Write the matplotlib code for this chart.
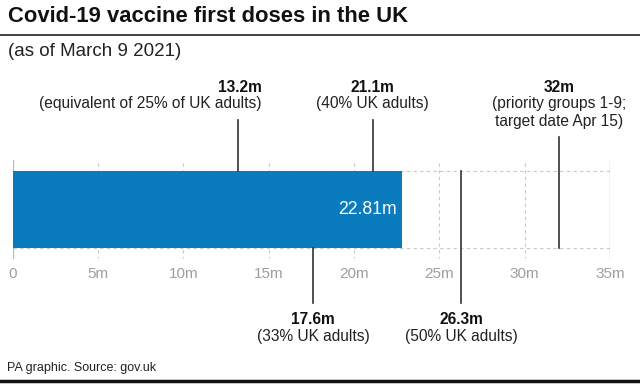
import matplotlib.pyplot as plt
from matplotlib.lines import Line2D

plt.rcParams['font.family'] = ['Liberation Sans', 'DejaVu Sans']

# data (millions of first doses)
doses = 22.81
ticks = [0, 5, 10, 15, 20, 25, 30, 35]
tick_labels = ['0', '5m', '10m', '15m', '20m', '25m', '30m', '35m']

# milestones drawn above the bar
top_vals = [13.2, 21.1, 32]
top_heads = ['13.2m', '21.1m', '32m']
top_notes = ['(equivalent of 25% of UK adults)', '(40% UK adults)',
             '(priority groups 1-9;\ntarget date Apr 15)']

# milestones drawn below the bar
bot_vals = [17.6, 26.3]
bot_heads = ['17.6m', '26.3m']
bot_notes = ['(33% UK adults)', '(50% UK adults)']

W, H = 640, 385
fig = plt.figure(figsize=(W / 100, H / 100), dpi=100)
x0, x35 = 12.5, 610
ax = fig.add_axes([x0 / W, 0, (x35 - x0) / W, 1])
ax.set_xlim(0, 35)
ax.set_ylim(H, 0)  # y in pixels from the top
ax.axis('off')

bar_top, bar_bot = 171, 248

# grid
for t in ticks[1:-1]:
    ax.plot([t, t], [163, 258], color='#c8c8c8', lw=0.8, ls=(0, (3, 3)))
for t in (ticks[0], ticks[-1]):
    ax.plot([t, t], [160, 258], color='#bdbdbd', lw=1)
for yy in (bar_top, bar_bot):
    ax.plot([0, 35], [yy, yy], color='#c8c8c8', lw=0.8, ls=(0, (3, 3)))

ax.barh((bar_top + bar_bot) / 2, doses, height=bar_bot - bar_top,
        color='#0a7bbc', zorder=2)
ax.text(doses - 0.3, (bar_top + bar_bot) / 2, f'{doses}m', color='white',
        fontsize=12.7, ha='right', va='center', zorder=3)

for t, lab in zip(ticks, tick_labels):
    ax.text(t, 274, lab, color='#9e9e9e', fontsize=11, ha='center', va='center')

# top annotations
line_tops = [120, 120, 137]
line_bots = [bar_top, bar_top, bar_bot]
for i, v in enumerate(top_vals):
    ax.plot([v, v], [line_tops[i], line_bots[i]], color='#333333', lw=1.2, zorder=4)
    if i == 0:
        tx, ha = v + 1.38, 'right'
    else:
        tx, ha = v, 'center'
    ax.text(tx, 87, top_heads[i], fontsize=11.2, fontweight='bold', ha=ha,
            va='center', color='#111111')
    ax.text(tx, 96, top_notes[i], fontsize=11.2, ha=ha, va='top',
            color='#222222', linespacing=1.25, multialignment='center')

# bottom annotations
bot_tops = [bar_bot, bar_top]
for i, v in enumerate(bot_vals):
    ax.plot([v, v], [bot_tops[i], 303], color='#333333', lw=1.2, zorder=4)
    ax.text(v, 319, bot_heads[i], fontsize=11.2, fontweight='bold', ha='center',
            va='center', color='#111111')
    ax.text(v, 336, bot_notes[i], fontsize=11.2, ha='center', va='center',
            color='#222222')

# title block
fig.text(8 / W, 1 - 17 / H, 'Covid-19 vaccine first doses in the UK',
         fontsize=15.8, fontweight='bold', va='center', ha='left', color='#111111')
fig.add_artist(Line2D([0, 1], [1 - 35 / H, 1 - 35 / H], color='#333333', lw=1.3))
fig.text(8 / W, 1 - 52 / H, '(as of March 9 2021)', fontsize=13.5,
         va='center', ha='left', color='#222222')
fig.text(7 / W, 1 - 368 / H, 'PA graphic. Source: gov.uk', fontsize=9,
         va='center', ha='left', color='#222222')
fig.add_artist(Line2D([0, 1], [1 - 381 / H, 1 - 381 / H], color='#111111', lw=2.5))

fig.savefig('out.png', dpi=100)
